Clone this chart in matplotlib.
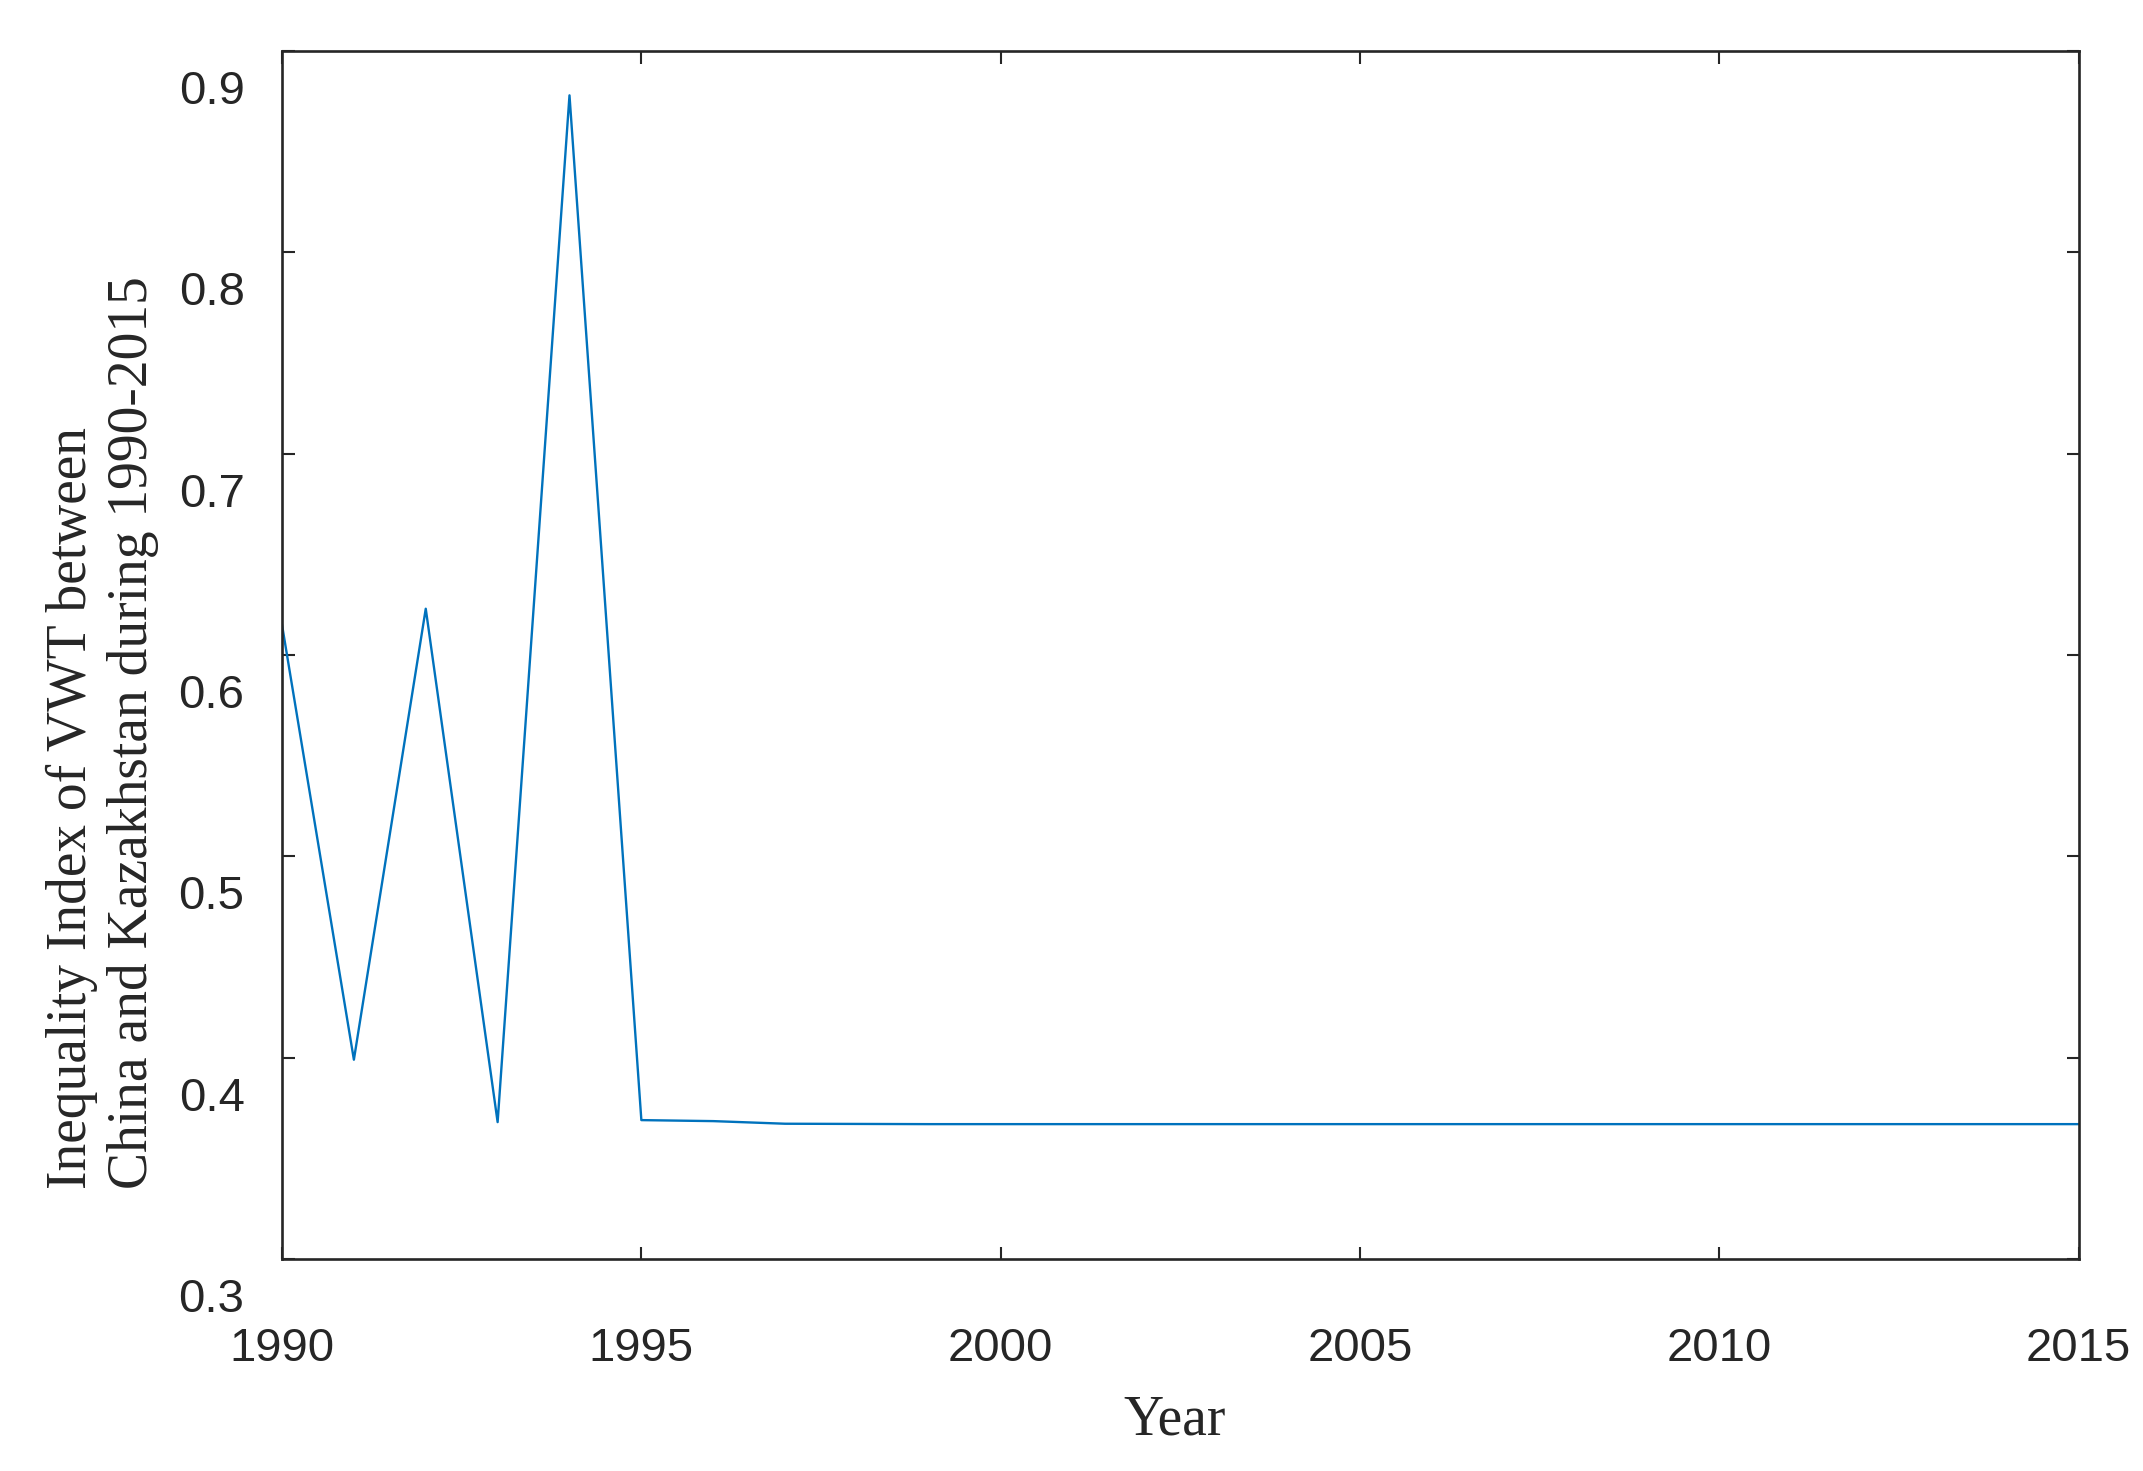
import matplotlib
matplotlib.use("Agg")
import matplotlib.pyplot as plt
from matplotlib.transforms import ScaledTranslation

# data
years = [1990, 1991, 1992, 1993, 1994, 1995, 1996, 1997, 1998, 1999, 2000,
         2001, 2002, 2003, 2004, 2005, 2006, 2007, 2008, 2009, 2010,
         2011, 2012, 2013, 2014, 2015]
index = [0.615, 0.399, 0.623, 0.368, 0.878, 0.369, 0.3685, 0.3672, 0.3671, 0.367, 0.367,
         0.367, 0.367, 0.367, 0.367, 0.367, 0.367, 0.367, 0.367, 0.367, 0.367,
         0.367, 0.367, 0.367, 0.367, 0.367]

x_ticks = [1990, 1995, 2000, 2005, 2010, 2015]
y_ticks = [0.3, 0.4, 0.5, 0.6, 0.7, 0.8, 0.9]

ylabel = "Inequality Index of VWT between\nChina and Kazakhstan during 1990-2015"

fig = plt.figure(figsize=(21.43, 14.71), dpi=100)
ax = fig.add_axes([0.1316, 0.1441, 0.8384, 0.8212])

ax.plot(years, index, color="#0072BD", linewidth=1.7)

ax.set_xlim(1990, 2015)
ax.set_ylim(0.3, 0.9)
ax.set_xticks(x_ticks)
ax.set_yticks(y_ticks)
ax.set_yticklabels([f"{v:.1f}" for v in y_ticks])

for s in ax.spines.values():
    s.set_color("#262626")
    s.set_linewidth(1.9)

ax.tick_params(direction="in", length=9, width=1.5, color="#262626",
               top=True, right=True, labelsize=34, labelcolor="#262626")
ax.tick_params(axis="x", pad=49)
ax.tick_params(axis="y", pad=27)
for lab in ax.get_xticklabels() + ax.get_yticklabels():
    lab.set_fontfamily("Liberation Sans")

# y tick labels sit a little below their ticks in the original
shift = ScaledTranslation(0, -0.36, fig.dpi_scale_trans)
for lab in ax.get_yticklabels():
    lab.set_transform(lab.get_transform() + shift)

fig.text(0.0476, 0.1917, ylabel, rotation=90, ha="center", va="bottom",
         multialignment="left", fontsize=40, family="Liberation Serif",
         color="#262626", linespacing=1.22)
fig.text(0.5483, 0.034, "Year", ha="center", va="center", fontsize=40,
         family="Liberation Serif", color="#262626")

fig.savefig("out.png", dpi=100)
